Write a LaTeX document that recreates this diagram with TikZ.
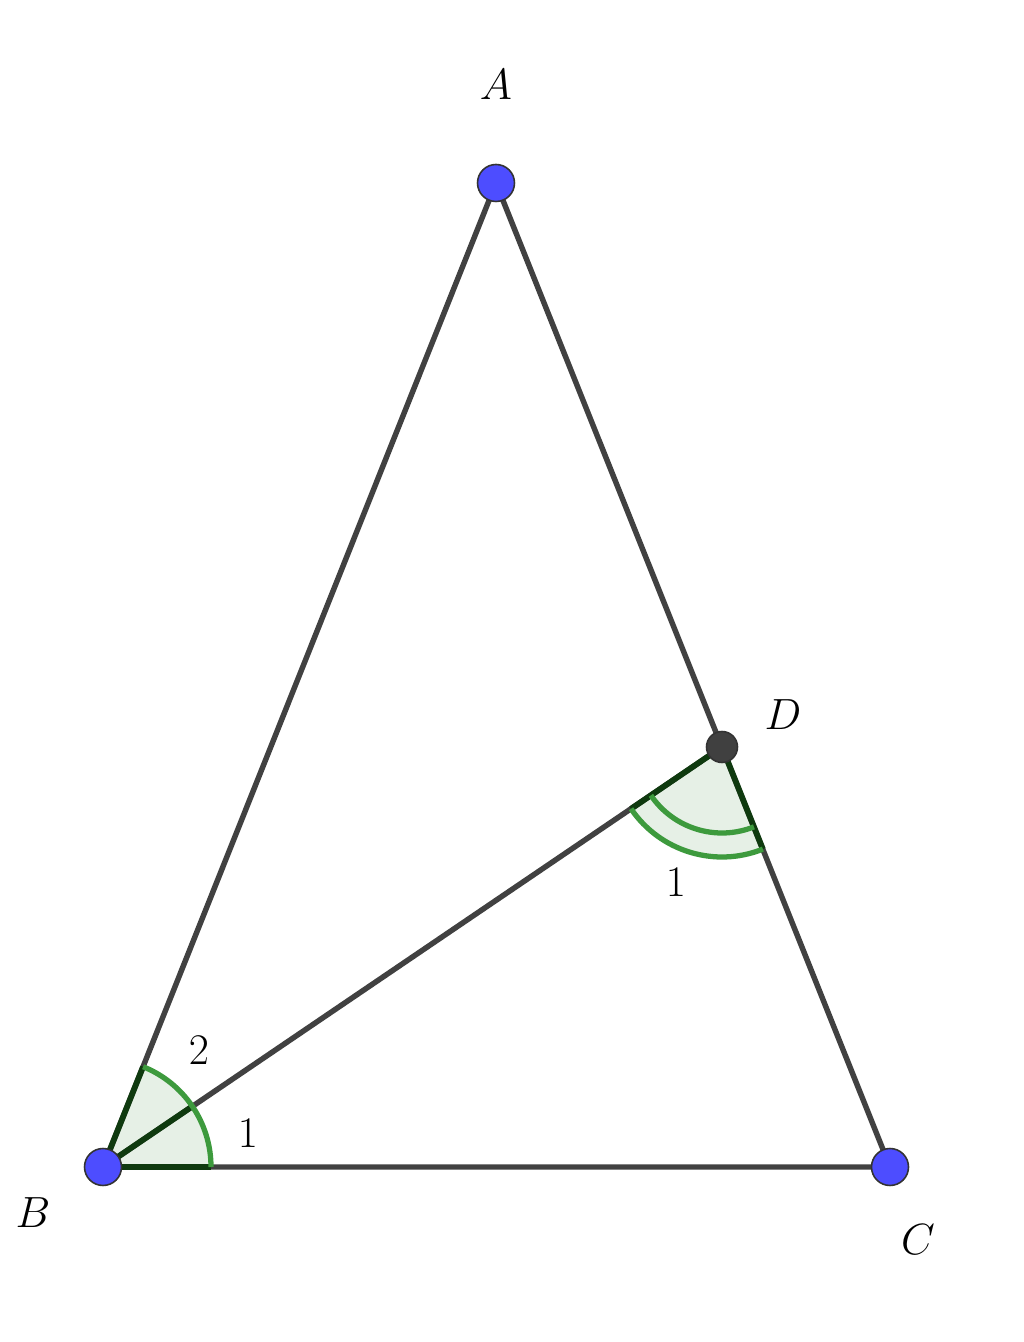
\documentclass[tikz,border=0pt]{standalone}
\usetikzlibrary{positioning}

\definecolor{segcol}{HTML}{414141}
\definecolor{ptblue}{HTML}{4D4DFF}
\definecolor{ptgray}{HTML}{404040}
\definecolor{angfill}{HTML}{E6F0E6}
\definecolor{angarc}{HTML}{3D9A3D}
\definecolor{angside}{HTML}{0F3A0F}

\tikzset{
    seg/.style={draw=segcol, line width=3.1pt, line cap=round},
    angsector/.style={fill=angfill},
    angline/.style={draw=angarc, line width=3pt},
    angedge/.style={draw=angside, line width=3.3pt},
    bluept/.style={circle, fill=ptblue, draw=black!80, line width=0.9pt, minimum size=1cm*0.74, inner sep=0pt},
    graypt/.style={circle, fill=ptgray, draw=black!80, line width=0.9pt, minimum size=1cm*0.62, inner sep=0pt},
    lbl/.style={font=\fontsize{31}{36}\selectfont}
}

\begin{document}
\begin{tikzpicture}[x=0.02cm, y=0.02cm]
\useasboundingbox (0,0) rectangle (1024,1342);

% Vertices
\coordinate (A) at (496,1159);
\coordinate (B) at (103,175);
\coordinate (C) at (890,175);
\coordinate (D) at (722,595);

% Angle sectors
\fill[angsector] (B) -- ++(0:108) arc[start angle=0, end angle=68.2, radius=108] -- cycle;
\fill[angsector] (D) -- ++(214.2:110) arc[start angle=214.2, end angle=291.8, radius=110] -- cycle;

% Sides
\draw[seg] (A) -- (B) -- (C) -- cycle;
\draw[seg] (B) -- (D);

% Angle marks at B
\draw[angedge] (B) -- ++(0:108);
\draw[angedge] (B) -- ++(68.2:108);
\draw[angedge] (B) -- ++(34.16:108);
\draw[angline] ([shift={(0:108)}]B) arc[start angle=0, end angle=68.2, radius=108];

% Angle marks at D
\draw[angedge] (D) -- ++(214.2:110);
\draw[angedge] (D) -- ++(291.8:110);
\draw[angline] ([shift={(214.2:86)}]D) arc[start angle=214.2, end angle=291.8, radius=86];
\draw[angline] ([shift={(214.2:110)}]D) arc[start angle=214.2, end angle=291.8, radius=110];

% Points
\node[bluept] (pA) at (A) {};
\node[bluept] (pB) at (B) {};
\node[bluept] (pC) at (C) {};
\node[graypt] (pD) at (D) {};

% Labels
\node[lbl] (lA) at (496,1257) {$A$};
\node[lbl] (lB) at (33,129) {$B$};
\node[lbl] (lC) at (918,102) {$C$};
\node[lbl] (lD) at (783,627) {$D$};
\node[lbl] (lB2) at (199,292) {$2$};
\node[lbl] (lB1) at (248,209) {$1$};
\node[lbl] (lD1) at (676,460) {$1$};

\end{tikzpicture}
\end{document}
